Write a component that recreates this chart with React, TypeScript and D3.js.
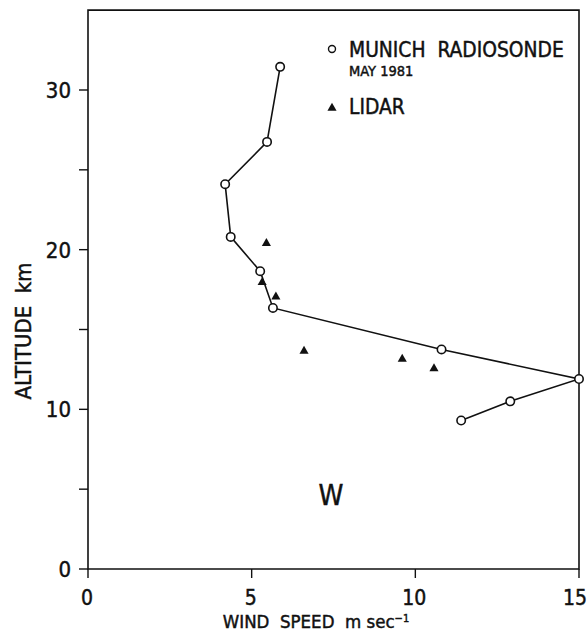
import React, { useEffect, useRef } from "react"
import * as d3 from "d3"

// radiosonde profile, Munich May 1981 (wind speed m/s, altitude km)
const sondeSpeed = [11.4, 12.9, 15.0, 10.8, 5.65, 5.26, 4.36, 4.19, 5.47, 5.87]
const sondeAlt = [9.3, 10.5, 11.9, 13.75, 16.35, 18.65, 20.8, 24.1, 26.75, 31.45]

// lidar points
const lidarSpeed = [5.45, 5.32, 5.74, 6.6, 9.6, 10.57]
const lidarAlt = [20.4, 17.95, 17.05, 13.65, 13.15, 12.55]

const xTicks = [0, 5, 10, 15]
const yTicks = [0, 5, 10, 15, 20, 25, 30]
const yLabels = [0, 10, 20, 30]

const FONT = "'DejaVu Sans Condensed', 'DejaVu Sans', sans-serif"

function App() {
  const ref = useRef(null)

  useEffect(() => {
    const svg = d3.select(ref.current)
    svg.selectAll("*").remove()

    const x = d3.scaleLinear().domain([0, 15]).range([88, 579])
    const y = d3.scaleLinear().domain([0, 30]).range([569, 90])
    const top = y(35)

    // text helper, slight stroke to get the heavier print look
    const txt = (sel, size) => sel
      .attr("font-family", FONT).attr("font-size", size)
      .attr("fill", "#111").attr("stroke", "#111").attr("stroke-width", 0.45)

    // frame
    svg.append("path")
      .attr("d", `M${x(0)},${top}H${x(15)}V${y(0)}H${x(0)}Z`)
      .attr("fill", "none")
      .attr("stroke", "#111")
      .attr("stroke-width", 1.6)

    // y ticks
    svg.selectAll(".yt").data(yTicks).enter().append("line")
      .attr("x1", x(0) - 9).attr("x2", x(0))
      .attr("y1", d => y(d)).attr("y2", d => y(d))
      .attr("stroke", "#111").attr("stroke-width", 1.4)
    txt(svg.selectAll(".yl").data(yLabels).enter().append("text"), 22)
      .attr("x", x(0) - 17).attr("y", d => y(d) + 8)
      .attr("text-anchor", "end")
      .text(d => d)

    // x ticks
    svg.selectAll(".xt").data(xTicks).enter().append("line")
      .attr("x1", d => x(d)).attr("x2", d => x(d))
      .attr("y1", y(0)).attr("y2", y(0) + 9)
      .attr("stroke", "#111").attr("stroke-width", 1.4)
    txt(svg.selectAll(".xl").data(xTicks).enter().append("text"), 21)
      .attr("x", d => x(d) - (d === 15 ? 4 : 1)).attr("y", 605)
      .attr("text-anchor", "middle")
      .text(d => d)

    // axis titles
    const xt = txt(svg.append("text"), 18.5)
      .attr("x", 316).attr("y", 628)
      .attr("text-anchor", "middle")
      .attr("xml:space", "preserve")
    xt.append("tspan").text("WIND  SPEED  m sec")
    xt.append("tspan").attr("dy", -6).attr("font-size", 11).text("−1")

    txt(svg.append("text"), 22)
      .attr("transform", `translate(31,331) rotate(-90)`)
      .attr("text-anchor", "middle")
      .attr("xml:space", "preserve")
      .text("ALTITUDE  km")

    // radiosonde line + circles
    const sonde = sondeSpeed.map((s, i) => [s, sondeAlt[i]])
    const line = d3.line().x(d => x(d[0])).y(d => y(d[1]))
    svg.append("path")
      .attr("d", line(sonde))
      .attr("fill", "none")
      .attr("stroke", "#111")
      .attr("stroke-width", 1.6)
    svg.selectAll(".sonde").data(sonde).enter().append("circle")
      .attr("cx", d => x(d[0])).attr("cy", d => y(d[1]))
      .attr("r", 4.2)
      .attr("fill", "#fff").attr("stroke", "#111").attr("stroke-width", 1.6)

    // lidar triangles
    const tri = d3.symbol().type(d3.symbolTriangle).size(36)
    const lidar = lidarSpeed.map((s, i) => [s, lidarAlt[i]])
    svg.selectAll(".lidar").data(lidar).enter().append("path")
      .attr("d", tri())
      .attr("transform", d => `translate(${x(d[0])},${y(d[1])})`)
      .attr("fill", "#111")

    // legend
    svg.append("circle")
      .attr("cx", 332).attr("cy", 49).attr("r", 3.5)
      .attr("fill", "#fff").attr("stroke", "#111").attr("stroke-width", 1.4)
    txt(svg.append("text"), 20.8)
      .attr("x", 349).attr("y", 57)
      .attr("xml:space", "preserve")
      .text("MUNICH  RADIOSONDE")
    txt(svg.append("text"), 14.5)
      .attr("x", 349).attr("y", 76)
      .text("MAY 1981")
    svg.append("path")
      .attr("d", tri())
      .attr("transform", "translate(332,108)")
      .attr("fill", "#111")
    txt(svg.append("text"), 20.8)
      .attr("x", 349).attr("y", 114)
      .text("LIDAR")

    txt(svg.append("text"), 28)
      .attr("x", 331).attr("y", 505)
      .attr("text-anchor", "middle")
      .text("W")
  }, [])

  return (
    <svg ref={ref} width={588} height={638}
      style={{ position: "absolute", left: 0, top: 0, background: "#fff" }} />
  )
}

export default App
